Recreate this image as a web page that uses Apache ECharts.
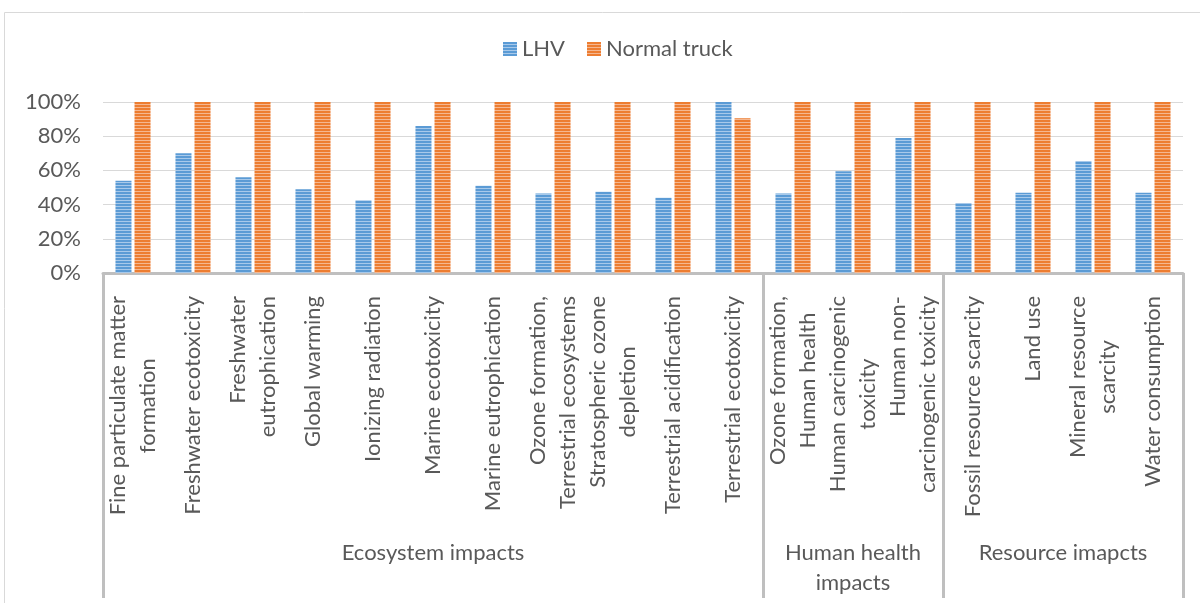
<!DOCTYPE html>
<html>
<head>
<meta charset="utf-8">
<script src="https://cdn.jsdelivr.net/npm/echarts@6/dist/echarts.min.js"></script>
<style>
    html, body { margin: 0; padding: 0; background: #fff; }
    #chart { width: 1200px; height: 603px; }
</style>
</head>
<body>
<div id="chart"></div>
<script>
const categories = [
    'Fine particulate matter\nformation',
    'Freshwater ecotoxicity',
    'Freshwater\neutrophication',
    'Global warming',
    'Ionizing radiation',
    'Marine ecotoxicity',
    'Marine eutrophication',
    'Ozone formation,\nTerrestrial ecosystems',
    'Stratospheric ozone\ndepletion',
    'Terrestrial acidification',
    'Terrestrial ecotoxicity',
    'Ozone formation,\nHuman health',
    'Human carcinogenic\ntoxicity',
    'Human non-\ncarcinogenic toxicity',
    'Fossil resource scarcity',
    'Land use',
    'Mineral resource\nscarcity',
    'Water consumption'
];

const lhv = [54, 70, 56, 49, 42.5, 86, 51, 46.5, 47.5, 44, 100, 46.5, 59.5, 79, 41, 47, 65.5, 47];
const normalTruck = [100, 100, 100, 100, 100, 100, 100, 100, 100, 100, 90.5, 100, 100, 100, 100, 100, 100, 100];

const groups = ['Ecosystem impacts', 'Human health\nimpacts', 'Resource imapcts'];
const groupSizes = [11, 3, 4];

const yTicks = [0, 20, 40, 60, 80, 100];

const FONT = 'Lato';
const FONT_SIZE = 22;
const TEXT = '#595959';
const AXIS_GREY = '#bfbfbf';
const LABEL_MARGIN = 23;
const ZW = '\u200b';

// group boundaries and middles, in category units
const groupEdges = [0];
const groupMiddles = [];
groupSizes.forEach((n, i) => {
    groupMiddles.push(groupEdges[i] + n / 2);
    groupEdges.push(groupEdges[i] + n);
});

// category middles on a 0..n value scale
const catMiddles = categories.map((c, i) => i + 0.5);

const measureCtx = document.createElement('canvas').getContext('2d');
measureCtx.font = FONT_SIZE + 'px ' + FONT;
const tw = (s) => measureCtx.measureText(s).width;

const labelStyle = {
    rotate: 90,
    hideOverlap: false,
    fontFamily: FONT,
    fontSize: FONT_SIZE,
    color: TEXT,
    lineHeight: 30
};

// a bare value axis over the same grid, used only to place text
function textAxis(values, margin, formatter, extraLabel) {
    return {
        type: 'value',
        position: 'bottom',
        min: 0,
        max: categories.length,
        axisLine: { show: false },
        axisTick: { show: false },
        splitLine: { show: false },
        axisLabel: Object.assign({}, labelStyle, {
            customValues: values,
            margin: margin,
            formatter: formatter
        }, extraLabel || {})
    };
}

// first lines (or the whole label); a blank second line keeps the
// first one left of the column centre, like the excel original
const firstLineAxis = textAxis(catMiddles, LABEL_MARGIN, (v) => {
    const lines = categories[Math.floor(v)].split('\n');
    return lines.length < 2 ? lines[0] : lines[0] + '\n' + ZW;
});

// rotated labels are anchored at their top end, so each second line
// gets its own margin to sit centred on its first line
const secondLineAxes = [];
categories.forEach((cat, k) => {
    const lines = cat.split('\n');
    if (lines.length < 2) return;
    const extra = Math.max(0, (tw(lines[0]) - tw(lines[1])) / 2);
    secondLineAxes.push(textAxis([k + 0.5], LABEL_MARGIN + extra, () => ZW + '\n' + lines[1]));
});

const groupAxis = {
    type: 'value',
    position: 'bottom',
    min: 0,
    max: categories.length,
    axisLine: { show: false },
    splitLine: { show: false },
    axisTick: {
        show: true,
        customValues: groupEdges,
        length: 325,
        lineStyle: { color: AXIS_GREY, width: 3 }
    },
    axisLabel: {
        customValues: groupMiddles,
        margin: 265,
        formatter: (v) => groups[groupMiddles.indexOf(v)] || '',
        fontFamily: FONT,
        fontSize: FONT_SIZE,
        color: TEXT,
        lineHeight: 30,
        align: 'center'
    }
};

// excel style "narrow horizontal" fill
function stripes(base, light) {
    const c = document.createElement('canvas');
    c.width = 4;
    c.height = 3;
    const ctx = c.getContext('2d');
    ctx.fillStyle = base;
    ctx.fillRect(0, 0, 4, 3);
    ctx.fillStyle = light;
    ctx.fillRect(0, 2, 4, 1);
    return { image: c, repeat: 'repeat' };
}

const chart = echarts.init(document.getElementById('chart'));

chart.setOption({
    animation: false,
    textStyle: { fontFamily: FONT },
    graphic: [{
        type: 'rect',
        shape: { x: 4.5, y: 12.5, width: 1400, height: 800 },
        style: { fill: 'none', stroke: '#d9d9d9', lineWidth: 1 },
        silent: true
    }],
    legend: {
        left: 503,
        top: 38,
        padding: 0,
        itemWidth: 14,
        itemHeight: 14,
        itemGap: 22,
        icon: 'rect',
        textStyle: { fontFamily: FONT, fontSize: FONT_SIZE, color: TEXT }
    },
    grid: {
        left: 103,
        right: 17,
        top: 102,
        bottom: 330,
        containLabel: false
    },
    xAxis: [
        {
            type: 'category',
            data: categories,
            position: 'bottom',
            axisLine: { lineStyle: { color: AXIS_GREY, width: 3 } },
            axisTick: { interval: 0, length: 249, lineStyle: { color: AXIS_GREY, width: 3 } },
            axisLabel: { show: false }
        },
        groupAxis,
        firstLineAxis
    ].concat(secondLineAxes),
    yAxis: {
        type: 'value',
        min: yTicks[0],
        max: yTicks[yTicks.length - 1],
        interval: 20,
        axisLine: { show: false },
        axisTick: { show: false },
        splitLine: { lineStyle: { color: '#d9d9d9', width: 1 } },
        axisLabel: {
            margin: 22,
            formatter: '{value}%',
            fontFamily: FONT,
            fontSize: FONT_SIZE,
            color: TEXT
        }
    },
    series: [
        {
            name: 'LHV',
            type: 'bar',
            data: lhv,
            barWidth: 16,
            barGap: '19%',
            itemStyle: { color: stripes('#5b9bd5', '#a8c9ea') }
        },
        {
            name: 'Normal truck',
            type: 'bar',
            data: normalTruck,
            barWidth: 16,
            itemStyle: { color: stripes('#ed7d31', '#f5b790') }
        }
    ]
});
</script>
</body>
</html>
